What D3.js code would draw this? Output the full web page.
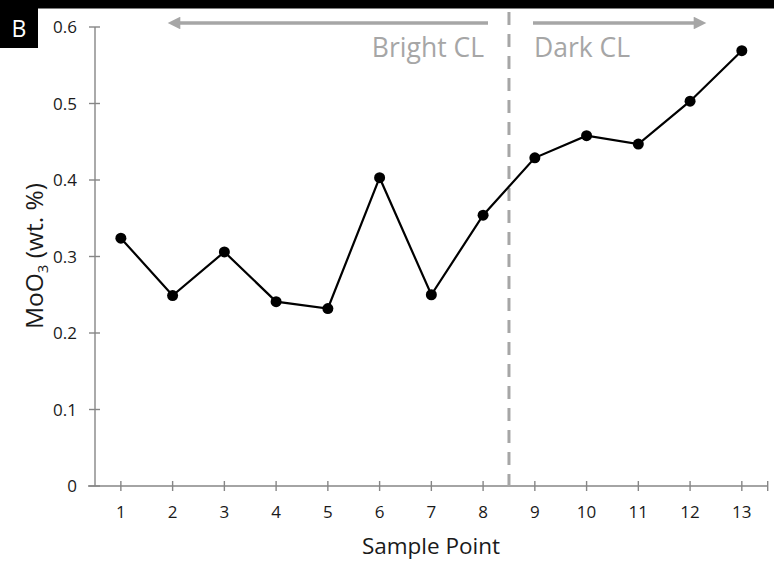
<!DOCTYPE html>
<html><head><meta charset="utf-8">
<script src="https://cdn.jsdelivr.net/npm/d3@7"></script>
<style>body{margin:0;background:#fff}svg{display:block}</style>
</head><body>
<script>
const samplePoints = [1,2,3,4,5,6,7,8,9,10,11,12,13];
const moO3 = [0.324,0.249,0.306,0.241,0.232,0.403,0.250,0.354,0.429,0.458,0.447,0.503,0.569];
const yTicks = [0,0.1,0.2,0.3,0.4,0.5,0.6];
const yTickLabels = ["0","0.1","0.2","0.3","0.4","0.5","0.6"];
const boundary = 8.5;
const regionLabels = ["Bright CL","Dark CL"];

const W=774,H=571;
const font = "'Open Sans', Lato, sans-serif";
const svg = d3.select("body").append("svg").attr("width",W).attr("height",H);
svg.append("rect").attr("width",W).attr("height",H).attr("fill","#fff");

const x = d3.scaleLinear().domain([0.5,13.5]).range([95,767.7]);
const y = d3.scaleLinear().domain([0,0.6]).range([486,27]);
const axisCol="#868686", gray="#a6a6a6", txt="#1a1a1a";

// top band and panel label
svg.append("rect").attr("x",0).attr("y",0).attr("width",W).attr("height",8.5).attr("fill","#000");
svg.append("rect").attr("x",0).attr("y",0).attr("width",38).attr("height",48).attr("fill","#000");
svg.append("text").attr("x",19).attr("y",37).attr("text-anchor","middle").attr("fill","#fff")
  .attr("font-family",font).attr("font-size",23).text("B");

// y axis
const ya = svg.append("g");
ya.append("line").attr("x1",95).attr("x2",95).attr("y1",y(0.6)).attr("y2",y(0)).attr("stroke",axisCol).attr("stroke-width",1.4);
yTicks.forEach((t,i)=>{
  ya.append("line").attr("x1",89).attr("x2",100).attr("y1",y(t)).attr("y2",y(t)).attr("stroke",axisCol).attr("stroke-width",1.4);
  ya.append("text").attr("x",77).attr("y",y(t)+6).attr("text-anchor","end").attr("font-family",font)
    .attr("font-size",17).attr("fill",txt).text(yTickLabels[i]);
});
// x axis
const xa = svg.append("g");
xa.append("line").attr("x1",88).attr("x2",x(13.5)).attr("y1",y(0)).attr("y2",y(0)).attr("stroke",axisCol).attr("stroke-width",1.4);
samplePoints.concat([13.5]).forEach(t=>{
  xa.append("line").attr("x1",x(t)).attr("x2",x(t)).attr("y1",y(0)-5).attr("y2",y(0)+5).attr("stroke",axisCol).attr("stroke-width",1.4);
});
samplePoints.forEach(t=>{
  xa.append("text").attr("x",x(t)).attr("y",518).attr("text-anchor","middle").attr("font-family",font)
    .attr("font-size",17).attr("fill",txt).text(t);
});
svg.append("text").attr("x",431).attr("y",554).attr("text-anchor","middle").attr("font-family",font)
  .attr("font-size",22.5).attr("fill",txt).text("Sample Point");
const yt = svg.append("text").attr("transform","translate(43,256) rotate(-90)").attr("text-anchor","middle")
  .attr("font-family",font).attr("font-size",24.5).attr("fill",txt);
yt.append("tspan").text("MoO");
yt.append("tspan").attr("font-size",15).attr("dy",5).text("3");
yt.append("tspan").attr("dy",-5).text(" (wt. %)");

// dashed boundary
svg.append("line").attr("x1",x(boundary)).attr("x2",x(boundary)).attr("y1",12).attr("y2",y(0)).attr("stroke",gray)
  .attr("stroke-width",3).attr("stroke-dasharray","13,9");

// arrows
const defs = svg.append("defs");
defs.append("marker").attr("id","ah").attr("viewBox","0 0 10 10").attr("refX",5).attr("refY",5)
  .attr("markerWidth",4).attr("markerHeight",3.6).attr("orient","auto-start-reverse").attr("markerUnits","strokeWidth")
  .append("path").attr("d","M0,0 L10,5 L0,10 z").attr("fill",gray);
svg.append("line").attr("x1",488).attr("x2",174).attr("y1",23).attr("y2",23).attr("stroke",gray).attr("stroke-width",3.5).attr("marker-end","url(#ah)");
svg.append("line").attr("x1",533).attr("x2",700).attr("y1",23).attr("y2",23).attr("stroke",gray).attr("stroke-width",3.5).attr("marker-end","url(#ah)");
svg.append("text").attr("x",484).attr("y",57).attr("text-anchor","end").attr("font-family",font).attr("font-size",26.5).attr("fill",gray).text(regionLabels[0]);
svg.append("text").attr("x",534).attr("y",57).attr("text-anchor","start").attr("font-family",font).attr("font-size",26.5).attr("fill",gray).text(regionLabels[1]);

// line + points
const line = d3.line().x((d,i)=>x(samplePoints[i])).y(d=>y(d));
svg.append("path").datum(moO3).attr("d",line).attr("fill","none").attr("stroke","#000").attr("stroke-width",2.2);
svg.selectAll("circle.pt").data(moO3).enter().append("circle").attr("class","pt")
  .attr("cx",(d,i)=>x(samplePoints[i])).attr("cy",d=>y(d)).attr("r",5.5).attr("fill","#000");
</script>
</body></html>
